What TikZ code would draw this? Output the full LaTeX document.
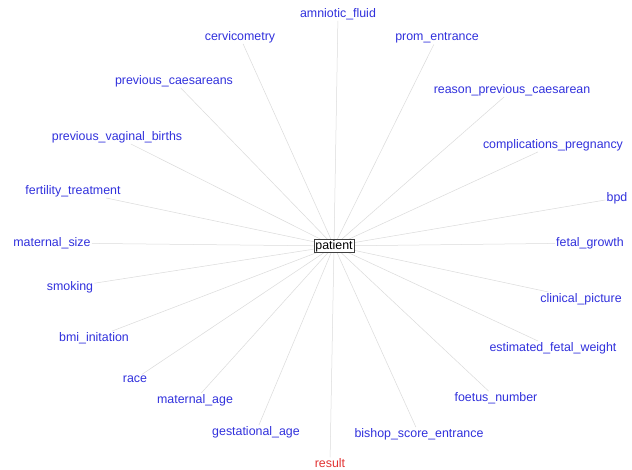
\documentclass[tikz,border=0pt]{standalone}
\usepackage{fontspec}
\setmainfont{Liberation Sans}
\definecolor{varblue}{RGB}{48,48,220}
\definecolor{varred}{RGB}{225,50,50}
\definecolor{edgegray}{RGB}{218,218,218}
\tikzset{
  var/.style={text=varblue, font=\fontsize{12.4}{14}\selectfont, inner sep=1pt},
  target/.style={var, text=varred},
  hub/.style={draw=black!75, fill=white, font=\fontsize{12.4}{14}\selectfont,
    inner xsep=1.5pt, inner ysep=1pt, line width=0.6pt},
}
\begin{document}
\begin{tikzpicture}[x=1pt, y=-1pt]
      \useasboundingbox (0,0) rectangle (632,470);
      \draw
        (338,14) node[var] (amniotic){amniotic\_fluid}
        (240,37) node[var] (cervico){cervicometry}
        (437,38) node[var] (prom){prom\_entrance}
        (174,81) node[var] (prevcaes){previous\_caesareans}
        (512,90) node[var] (reason){reason\_previous\_caesarean}
        (117,137) node[var] (prevvag){previous\_vaginal\_births}
        (553,145) node[var] (compl){complications\_pregnancy}
        (73,191) node[var] (fertility){fertility\_treatment}
        (617,198) node[var] (bpd){bpd}
        (52,243) node[var] (matsize){maternal\_size}
        (590,243) node[var] (fetgrowth){fetal\_growth}
        (70,287) node[var] (smoking){smoking}
        (581,299) node[var] (clinical){clinical\_picture}
        (94,338) node[var] (bmi){bmi\_initation}
        (553,348) node[var] (weight){estimated\_fetal\_weight}
        (135,379) node[var] (race){race}
        (195,400) node[var] (matage){maternal\_age}
        (496,398) node[var] (foetus){foetus\_number}
        (256,432) node[var] (gestage){gestational\_age}
        (419,434) node[var] (bishop){bishop\_score\_entrance}
        (330,463) node[target] (result){result};
      \begin{scope}[-, draw=edgegray, line width=0.5pt]
        \draw (334,246) coordinate (c);
        \draw (c) to (amniotic);
        \draw (c) to (cervico);
        \draw (c) to (prom);
        \draw (c) to (prevcaes);
        \draw (c) to (reason);
        \draw (c) to (prevvag);
        \draw (c) to (compl);
        \draw (c) to (fertility);
        \draw (c) to (bpd);
        \draw (c) to (matsize);
        \draw (c) to (fetgrowth);
        \draw (c) to (smoking);
        \draw (c) to (clinical);
        \draw (c) to (bmi);
        \draw (c) to (weight);
        \draw (c) to (race);
        \draw (c) to (matage);
        \draw (c) to (foetus);
        \draw (c) to (gestage);
        \draw (c) to (bishop);
        \draw (c) to (result);
      \end{scope}
      \node[hub] (patient) at (c) {patient};
    \end{tikzpicture}
\end{document}
